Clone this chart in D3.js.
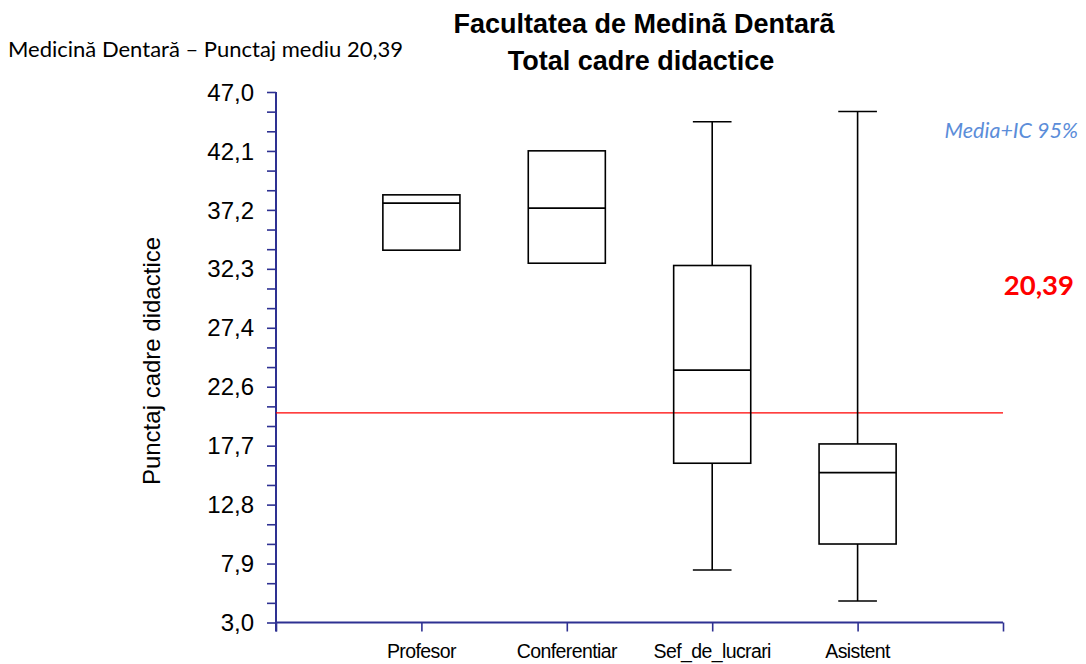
<!DOCTYPE html>
<html><head><meta charset="utf-8">
<script src="https://cdn.jsdelivr.net/npm/d3@7"></script>
<style>body{margin:0;background:#fff}svg{display:block}</style>
</head><body>
<script>
const categories = ["Profesor","Conferentiar","Sef_de_lucrari","Asistent"];
const whiskerLow  = [33.88, 32.80, 7.36, 4.78];
const q1          = [33.88, 32.80, 16.21, 9.51];
const median      = [37.78, 37.37, 23.93, 15.43];
const q3          = [38.47, 42.12, 32.61, 17.81];
const whiskerHigh = [38.47, 42.12, 44.53, 45.38];
const meanValue = 20.39;
const yTickLabels = ["3,0","7,9","12,8","17,7","22,6","27,4","32,3","37,2","42,1","47,0"];

const W = 1086, H = 664;
const svg = d3.select("body").append("svg").attr("width", W).attr("height", H);
const axisColor = "#2e3192";

const y = d3.scaleLinear().domain([3, 47]).range([622.5, 92]);
const x = d3.scaleLinear().domain([0, 5]).range([276, 1003]);

const step = 44 / 9;
const majors = d3.range(10).map(i => 3 + i * step);
const minors = d3.range(28).map(i => 3 + i * step / 3);
const yAxis = d3.axisLeft(y).tickValues(minors).tickSize(9).tickFormat(() => "");
const gy = svg.append("g").attr("transform", "translate(276,0)").call(yAxis);
gy.select(".domain").attr("d", `M0,${y(47)}V${y(3) + 9}`);
gy.selectAll("line").attr("stroke", axisColor).attr("stroke-width", 1.6);
gy.select(".domain").attr("stroke", axisColor).attr("stroke-width", 2);
gy.selectAll("text").remove();
svg.append("g").selectAll("text").data(majors).join("text")
  .attr("x", 254).attr("y", d => y(d)).attr("dy", "0.36em")
  .attr("text-anchor", "end")
  .attr("font-family", "Liberation Sans, Arial, sans-serif").attr("font-size", 24)
  .attr("fill", "#000").text((d, i) => yTickLabels[i]);

const xAxis = d3.axisBottom(x).tickValues([0,1,2,3,4,5]).tickSize(9).tickFormat(() => "");
const gx = svg.append("g").attr("transform", `translate(0,${y(3)})`).call(xAxis);
gx.select(".domain").attr("d", `M${x(0)},0H${x(5)}`).attr("stroke", axisColor).attr("stroke-width", 2);
gx.selectAll("line").attr("stroke", axisColor).attr("stroke-width", 1.6);
svg.append("g").selectAll("text").data(categories).join("text")
  .attr("x", (d, i) => x(i + 1)).attr("y", 658)
  .attr("text-anchor", "middle")
  .attr("font-family", "Liberation Sans, Arial, sans-serif").attr("font-size", 19.5)
  .attr("letter-spacing", "-0.6").attr("fill", "#000").text(d => d);

svg.append("line").attr("x1", x(0)).attr("x2", x(5)).attr("y1", y(meanValue)).attr("y2", y(meanValue))
  .attr("stroke", "#ff0000").attr("stroke-width", 1.3);

const half = 0.265, capHalf = 0.133;
const g = svg.append("g").attr("stroke", "#000").attr("stroke-width", 1.6).attr("fill", "none");
categories.forEach((c, i) => {
  const cx = i + 1;
  if (whiskerHigh[i] > q3[i]) {
    g.append("line").attr("x1", x(cx)).attr("x2", x(cx)).attr("y1", y(whiskerHigh[i])).attr("y2", y(q3[i]));
    g.append("line").attr("x1", x(cx - capHalf)).attr("x2", x(cx + capHalf)).attr("y1", y(whiskerHigh[i])).attr("y2", y(whiskerHigh[i]));
  }
  if (whiskerLow[i] < q1[i]) {
    g.append("line").attr("x1", x(cx)).attr("x2", x(cx)).attr("y1", y(q1[i])).attr("y2", y(whiskerLow[i]));
    g.append("line").attr("x1", x(cx - capHalf)).attr("x2", x(cx + capHalf)).attr("y1", y(whiskerLow[i])).attr("y2", y(whiskerLow[i]));
  }
  g.append("rect").attr("x", x(cx - half)).attr("width", x(cx + half) - x(cx - half))
    .attr("y", y(q3[i])).attr("height", y(q1[i]) - y(q3[i]));
  g.append("line").attr("x1", x(cx - half)).attr("x2", x(cx + half)).attr("y1", y(median[i])).attr("y2", y(median[i]));
});

svg.append("text").attr("x", 8).attr("y", 57)
  .attr("font-family", "Lato, Carlito, Calibri, sans-serif").attr("font-size", 22)
  .attr("fill", "#000").text("Medicină Dentară – Punctaj mediu 20,39");

const title = svg.append("text").attr("text-anchor", "middle")
  .attr("font-family", "Liberation Sans, Arial, sans-serif").attr("font-weight", "bold").attr("font-size", 27).attr("fill", "#000");
title.append("tspan").attr("x", 644).attr("y", 33).text("Facultatea de Medinã Dentarã");
title.append("tspan").attr("x", 641).attr("y", 70).text("Total cadre didactice");

svg.append("text").attr("transform", "translate(160,361) rotate(-90)").attr("text-anchor", "middle")
  .attr("font-family", "Liberation Sans, Arial, sans-serif").attr("font-size", 24).attr("fill", "#000")
  .text("Punctaj cadre didactice");

svg.append("text").attr("x", 1078).attr("y", 138).attr("text-anchor", "end")
  .attr("font-family", "Lato, Carlito, Calibri, sans-serif").attr("font-style", "italic").attr("font-size", 21.5)
  .attr("fill", "#5b8dd9").text("Media+IC 95%");

svg.append("text").attr("x", 1074).attr("y", 295).attr("text-anchor", "end")
  .attr("font-family", "Lato, Carlito, Calibri, sans-serif").attr("font-weight", "bold").attr("font-size", 27.5)
  .attr("fill", "#ff0000").text("20,39");
</script>
</body></html>
